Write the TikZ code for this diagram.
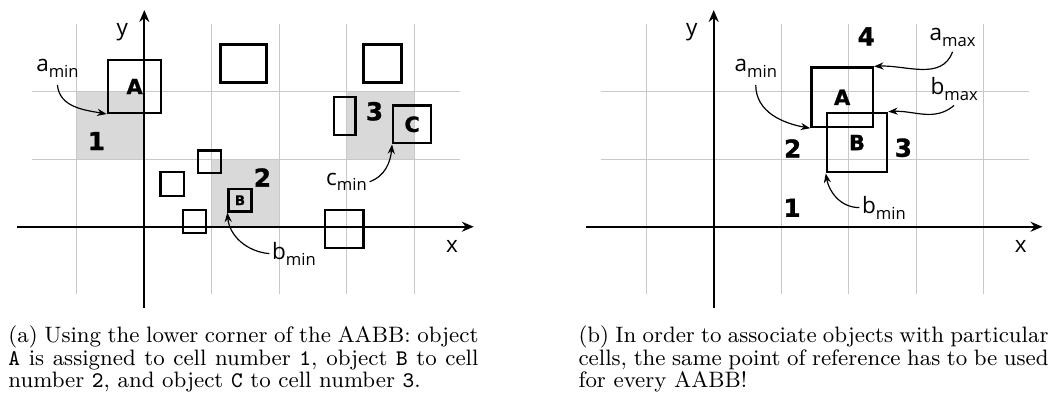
\documentclass[tikz,border=0pt]{standalone}
\usepackage{fontspec}
\newfontfamily\lblfont{Open Sans}
\newfontfamily\tagfont{DejaVu Sans}[BoldFeatures={FakeBold=1.2}]
\usetikzlibrary{arrows.meta}

\definecolor{gridgray}{RGB}{200,200,200}
\definecolor{cellgray}{RGB}{217,217,217}

% point label with a lowered, smaller index
\newcommand\ptname[2]{#1\raisebox{-2.4pt}{\fontsize{7}{8}\selectfont #2}}
% caption lines
\newcommand\capfont{\fontsize{9.4}{9.5}\selectfont}
\newcommand\capline[1]{\makebox[6.963cm][s]{\capfont #1}}

\tikzset{
  gridline/.style={draw=gridgray, line width=0.45pt},
  cellfill/.style={fill=cellgray},
  axis/.style={line width=0.9pt, -{Stealth[length=5pt,width=4.2pt]}},
  aabb/.style={draw, line width=1pt, rectangle, inner sep=0pt, anchor=south west,
    font=\tagfont\bfseries\fontsize{8.8}{9}\selectfont},
  cellno/.style={font=\tagfont\bfseries\fontsize{10.4}{11}\selectfont, inner sep=0pt},
  pointlbl/.style={font=\lblfont\fontsize{9.5}{11}\selectfont, inner sep=1pt, anchor=base west},
  pointer/.style={line width=0.5pt, -{Stealth[length=4pt,width=3pt]}},
  axislbl/.style={font=\lblfont\fontsize{9.5}{11}\selectfont, inner sep=0pt, anchor=base},
  caption/.style={anchor=base west, inner sep=0pt},
}

\begin{document}
\begin{tikzpicture}
\path[use as bounding box] (0,0) rectangle (15.644,-5.867);

% ---------- (a) lower corner as reference point ----------
\begin{scope}[shift={(2.138,-3.359)}]
  \fill[cellfill] (-1,1) rectangle (0,2);
  \fill[cellfill] (1,0) rectangle (2,1);
  \fill[cellfill] (3,1) rectangle (4,2);
  \foreach \x in {-1,...,4} \draw[gridline] (\x,-1) -- (\x,3);
  \foreach \y in {1,2} \draw[gridline] (-1.67,\y) -- (4.67,\y);
  \draw[axis] (-1.89,0) -- (4.88,0);
  \draw[axis] (0,-1.2) -- (0,3.21);
  \node[axislbl] (lx) at (4.56,-0.38) {x};
  \node[axislbl] (ly) at (-0.326,2.836) {y};

  \node[aabb, minimum width=0.79cm, minimum height=0.78cm] (lA) at (-0.557,1.67) {A};
  \node[aabb, minimum width=0.68cm, minimum height=0.56cm] (lo1) at (1.11,2.12) {};
  \node[aabb, minimum width=0.56cm, minimum height=0.56cm] (lo2) at (3.23,2.12) {};
  \node[aabb, minimum width=0.32cm, minimum height=0.56cm] (lo3) at (2.79,1.34) {};
  \node[aabb, minimum width=0.56cm, minimum height=0.56cm] (lC) at (3.67,1.22) {C};
  \node[aabb, minimum width=0.34cm, minimum height=0.33cm] (lo4) at (0.78,0.78) {};
  \node[aabb, minimum width=0.35cm, minimum height=0.35cm] (lo5) at (0.22,0.44) {};
  \node[aabb, minimum width=0.34cm, minimum height=0.34cm] (lo6) at (0.56,-0.11) {};
  \node[aabb, minimum width=0.34cm, minimum height=0.33cm,
        font=\tagfont\bfseries\fontsize{5.6}{6}\selectfont] (lB) at (1.23,0.21) {B};
  \node[aabb, minimum width=0.57cm, minimum height=0.56cm] (lo7) at (2.66,-0.33) {};

  \node[cellno] (lc1) at (-0.71,1.27) {1};
  \node[cellno] (lc2) at (1.75,0.73) {2};
  \node[cellno] (lc3) at (3.41,1.71) {3};

  \node[pointlbl] (lamin) at (-1.643,2.296) {\ptname{a}{min}};
  \node[pointlbl] (lbmin) at (1.852,-0.483) {\ptname{b}{min}};
  \node[pointlbl] (lcmin) at (2.652,0.618) {\ptname{c}{min}};

  \draw[pointer] ([yshift=-2pt]lamin.south) to[out=-85,in=170] (lA.south west);
  \draw[pointer] (lbmin.west) to[out=175,in=-85] (lB.south west);
  \draw[pointer] (lcmin.east) to[out=20,in=-95] (lC.south west);
\end{scope}

% ---------- (b) overlapping boxes ----------
\begin{scope}[shift={(10.573,-3.359)}]
  \foreach \x in {-1,...,4} \draw[gridline] (\x,-1) -- (\x,3);
  \foreach \y in {1,2} \draw[gridline] (-1.67,\y) -- (4.67,\y);
  \draw[axis] (-1.89,0) -- (4.87,0);
  \draw[axis] (0,-1.21) -- (0,3.21);
  \node[axislbl] (rx) at (4.548,-0.38) {x};
  \node[axislbl] (ry) at (-0.326,2.836) {y};

  \node[aabb, minimum width=0.91cm, minimum height=0.88cm] (rA) at (1.43,1.46) {A};
  \node[aabb, minimum width=0.89cm, minimum height=0.88cm] (rB) at (1.66,0.79) {B};

  \node[cellno] (rc4) at (2.26,2.82) {4};
  \node[cellno] (rc2) at (1.17,1.16) {2};
  \node[cellno] (rc3) at (2.81,1.17) {3};
  \node[cellno] (rc1) at (1.16,0.28) {1};

  \node[pointlbl] (ramin) at (0.267,2.296) {\ptname{a}{min}};
  \node[pointlbl] (ramax) at (3.156,2.756) {\ptname{a}{max}};
  \node[pointlbl] (rbmax) at (3.170,1.961) {\ptname{b}{max}};
  \node[pointlbl] (rbmin) at (2.157,0.199) {\ptname{b}{min}};

  \draw[pointer] ([yshift=-2pt]ramin.south) to[out=-90,in=170] (rA.south west);
  \draw[pointer] ([yshift=-1pt]ramax.south) to[out=-110,in=3] (rA.north east);
  \draw[pointer] ([yshift=-1pt]rbmax.south) to[out=-140,in=3] (rB.north east);
  \draw[pointer] (rbmin.west) to[out=180,in=-80] (rB.south west);
\end{scope}

% ---------- captions ----------
\node[caption] (capa1) at (0.1185,-5.081) {\capline{(a) Using the lower corner of the AABB: object}};
\node[caption] (capa2) at (0.1185,-5.414) {\capline{\texttt{A} is assigned to cell number \texttt{1}, object \texttt{B} to cell}};
\node[caption] (capa3) at (0.1185,-5.747) {\capfont number \texttt{2}, and object \texttt{C} to cell number \texttt{3}.};

\node[caption] (capb1) at (8.563,-5.081) {\capline{(b) In order to associate objects with particular}};
\node[caption] (capb2) at (8.563,-5.414) {\capline{cells, the same point of reference has to be used}};
\node[caption] (capb3) at (8.563,-5.747) {\capfont for every AABB!};
\end{tikzpicture}
\end{document}
